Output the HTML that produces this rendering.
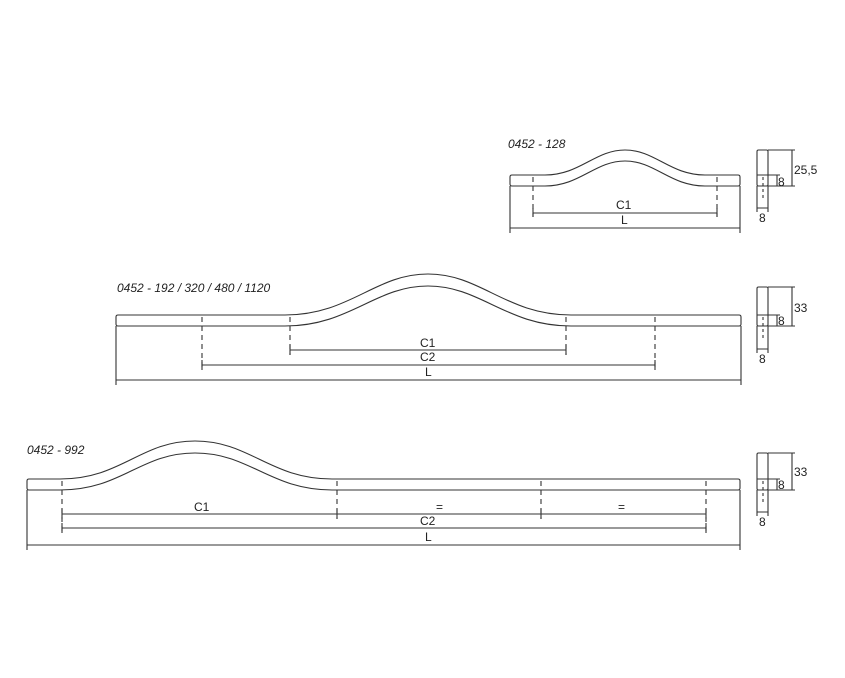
<!DOCTYPE html>
<html><head><meta charset="utf-8"><style>
html,body{margin:0;padding:0;background:#fff}
svg{display:block}
text{font-family:"Liberation Sans",sans-serif;font-size:12px;fill:#222}
.it{font-style:italic}
</style></head><body>
<svg width="845" height="678" viewBox="0 0 845 678" xmlns="http://www.w3.org/2000/svg">
<g fill="none" stroke="#333" stroke-width="1.1">
<path d="M512,175 L545,175 C580,175 595,150 625,150 C655,150 670,175 705,175 L738,175 Q740,175 740,177 L740,184 Q740,186 738,186 L705,186 C670,186 655,161 625,161 C595,161 580,186 545,186 L512,186 Q510,186 510,184 L510,177 Q510,175 512,175 Z"/>
<g stroke-dasharray="5,4"><path d="M533,177V217M717,177V217"/></g>
<path d="M533,213H717M533,208V217M717,208V217"/>
<path d="M510,186V233M740,186V233M510,228H740"/>
<rect x="757" y="150" width="11" height="36" rx="1.5"/>
<path d="M757,175H768M768,150H795M768,186H795M792,150V186M768,175H780M777,175V186"/>
<path d="M757,186V212M768,186V212M757,208H768"/>
<path d="M763,177V200" stroke-dasharray="3,3"/>
<path d="M118,315 L285,315 C350,315 375,274 428,274 C481,274 506,315 571,315 L739,315 Q741,315 741,317 L741,324 Q741,326 739,326 L571,326 C506,326 481,286 428,286 C375,286 350,326 285,326 L118,326 Q116,326 116,324 L116,317 Q116,315 118,315 Z"/>
<g stroke-dasharray="5,4"><path d="M202,317V370M290,317V355M566,317V355M655,317V370"/></g>
<path d="M290,350H566M290,345V355M566,345V355"/>
<path d="M202,365H655M202,360V370M655,360V370"/>
<path d="M116,326V385M741,326V385M116,380H741"/>
<rect x="757" y="287" width="11" height="39" rx="1.5"/>
<path d="M757,315H768M768,287H795M768,326H795M792,287V326M768,315H780M777,315V326"/>
<path d="M757,326V353M768,326V353M757,349H768"/>
<path d="M763,317V340" stroke-dasharray="3,3"/>
<path d="M29,479 L60,479 C122,479 140,441 195,441 C250,441 270,479 332,479 L738,479 Q740,479 740,481 L740,488 Q740,490 738,490 L332,490 C270,490 250,453 195,453 C140,453 122,490 60,490 L29,490 Q27,490 27,488 L27,481 Q27,479 29,479 Z"/>
<g stroke-dasharray="5,4"><path d="M62,481V533M337,481V519M541,481V519M706,481V533"/></g>
<path d="M62,514H706M62,509V519M337,509V519M541,509V519M706,509V519"/>
<path d="M62,528H706M62,523V533M706,523V533"/>
<path d="M27,490V550M740,490V550M27,545H740"/>
<rect x="757" y="453" width="11" height="37" rx="1.5"/>
<path d="M757,479H768M768,453H795M768,490H795M792,453V490M768,479H780M777,479V490"/>
<path d="M757,490V516M768,490V516M757,512H768"/>
<path d="M763,481V504" stroke-dasharray="3,3"/>
</g>
<text class="it" x="508" y="148">0452 - 128</text>
<text x="616" y="209">C1</text>
<text x="621" y="224">L</text>
<text x="794" y="174">25,5</text>
<text x="778" y="186">8</text>
<text x="759" y="222">8</text>
<text class="it" x="117" y="292">0452 - 192 / 320 / 480 / 1120</text>
<text x="420" y="347">C1</text>
<text x="420" y="361">C2</text>
<text x="425" y="376">L</text>
<text x="794" y="312">33</text>
<text x="778" y="325">8</text>
<text x="759" y="363">8</text>
<text class="it" x="27" y="454">0452 - 992</text>
<text x="194" y="511">C1</text>
<text x="436" y="511">=</text>
<text x="618" y="511">=</text>
<text x="420" y="525">C2</text>
<text x="425" y="541">L</text>
<text x="794" y="476">33</text>
<text x="778" y="489">8</text>
<text x="759" y="526">8</text>
</svg>
</body></html>
